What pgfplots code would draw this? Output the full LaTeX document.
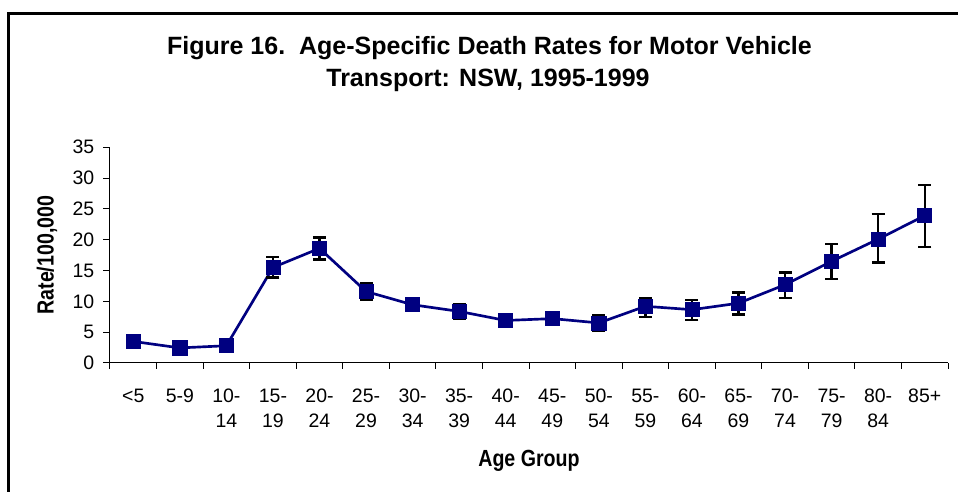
\documentclass[border=0pt]{standalone}
\usepackage{pgfplots}
\usepackage{pgfplotstable}
\pgfplotsset{compat=1.18}
\usepackage{fontspec}
\setmainfont{Liberation Sans}
\newfontfamily\condfont{Liberation Sans}[FakeStretch=0.84]
\definecolor{navy}{RGB}{0,0,128}

\pgfplotstableread{
x    y     ep    em
0.5  3.5   0.5   0.5
1.5  2.45  0.4   0.4
2.5  2.8   0.5   0.5
3.5  15.5  1.7   1.6
4.5  18.6  1.75  1.8
5.5  11.6  1.35  1.35
6.5  9.45  1.0   1.0
7.5  8.37  1.15  1.15
8.5  6.9   1.0   1.0
9.5  7.2   1.0   1.0
10.5 6.5   1.2   1.2
11.5 9.2   1.3   1.75
12.5 8.65  1.6   1.65
13.5 9.7   1.75  1.8
14.5 12.7  2.0   2.2
15.5 16.5  2.8   2.9
16.5 20.1  4.05  3.8
17.5 23.9  4.95  5.1
}\datatable

\begin{document}
\begin{tikzpicture}
\useasboundingbox (0pt,0pt) rectangle (718.5pt,369pt);
\begin{scope}
\clip (0pt,0pt) rectangle (718.5pt,369pt);
\draw[line width=2pt, black] (6.5pt,358.7pt) rectangle (750pt,-20pt);
\end{scope}
\node[font=\bfseries\fontsize{18.75}{24}\selectfont, anchor=base] at (367.1pt,327.75pt) {Figure 16.\ \ Age-Specific Death Rates for Motor Vehicle};
\node[font=\bfseries\fontsize{18.75}{24}\selectfont, anchor=base] at (366pt,304pt) {Transport: NSW, 1995-1999};
\begin{axis}[
  at={(82.5pt,96.75pt)}, anchor=south west, scale only axis,
  width=628.5pt, height=161.8pt,
  xmin=0, xmax=18, ymin=0, ymax=35,
  axis lines*=left,
  axis line style={black, line width=0.75pt},
  tick align=outside,
  xtick={0.5,1.5,...,17.5},
  xticklabels={{<5},{5-9},{10-\\14},{15-\\19},{20-\\24},{25-\\29},{30-\\34},{35-\\39},{40-\\44},{45-\\49},{50-\\54},{55-\\59},{60-\\64},{65-\\69},{70-\\74},{75-\\79},{80-\\84},{85+}},
  minor xtick={0,1,...,18},
  major x tick style={draw=none},
  minor x tick style={draw=black, line width=0.75pt},
  minor tick length=4.5pt,
  ytick={0,5,...,35},
  y tick style={draw=black, line width=0.75pt},
  major tick length=5.25pt,
  /pgf/number format/assume math mode=true,
  xticklabel style={font=\fontsize{14.6}{18.75}\selectfont, align=center, anchor=north, yshift=-10.5pt},
  yticklabel style={font=\fontsize{14.6}{17}\selectfont, anchor=east, xshift=-3pt},
  xlabel={Age Group},
  xlabel style={font=\condfont\bfseries\fontsize{17.5}{20}\selectfont, at={(axis description cs:0.5,0)}, anchor=base, yshift=-77.8pt},
  ylabel={Rate/100,000},
  ylabel style={font=\condfont\bfseries\fontsize{17.5}{20}\selectfont, at={(axis description cs:-0.0752,0.5)}, anchor=center},
  clip=false,
]
\addplot[navy, line width=2pt, mark=square*, mark size=5.3pt,
  mark options={solid, fill=navy, draw=navy, line width=0.5pt},
  error bars/.cd, y dir=both, y explicit,
  error bar style={black, line width=1.8pt},
  error mark options={rotate=90, black, line width=1.8pt, mark size=4.9pt}]
  table[x=x, y=y, y error plus=ep, y error minus=em] {\datatable};
\end{axis}
\end{tikzpicture}
\end{document}
